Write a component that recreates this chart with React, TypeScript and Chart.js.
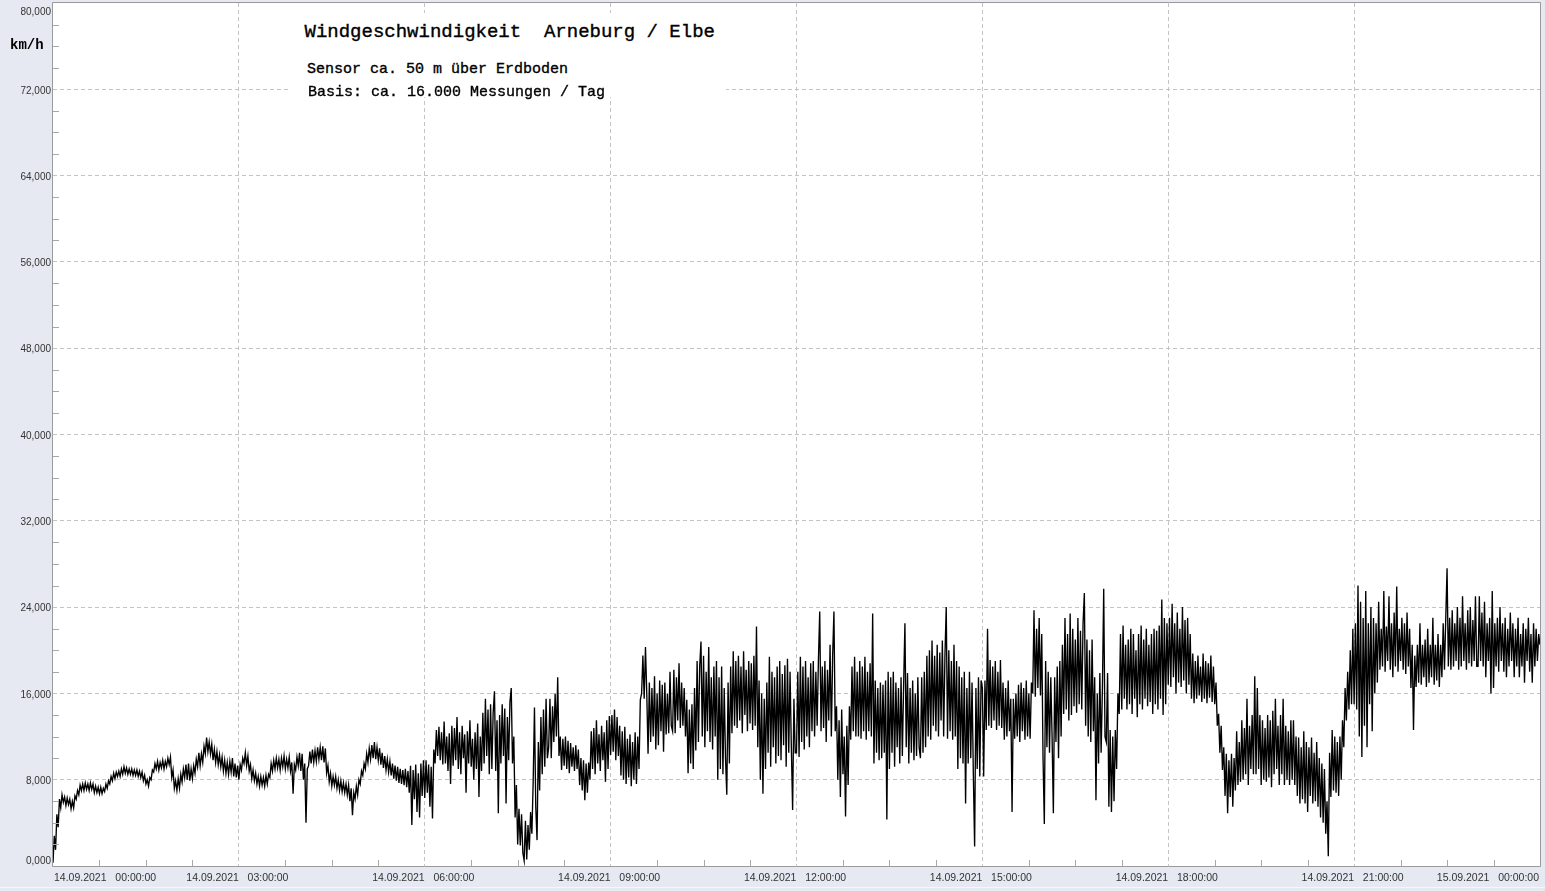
import React, { useEffect, useRef } from 'react';
import { Chart, registerables } from 'chart.js';

Chart.register(...registerables);

// ---------- axis data ----------
const xTickMinutes = [0, 180, 360, 540, 720, 900, 1080, 1260, 1440];
const xTickLabels = [
  '14.09.2021   00:00:00',
  '14.09.2021   03:00:00',
  '14.09.2021   06:00:00',
  '14.09.2021   09:00:00',
  '14.09.2021   12:00:00',
  '14.09.2021   15:00:00',
  '14.09.2021   18:00:00',
  '14.09.2021   21:00:00',
  '15.09.2021   00:00:00',
];
const yTickValues = [0, 8, 16, 24, 32, 40, 48, 56, 64, 72, 80];
const yTickLabels = ['0,000', '8,000', '16,000', '24,000', '32,000', '40,000', '48,000', '56,000', '64,000', '72,000', '80,000'];

// ---------- wind speed readings (km/h), each array spans one hour ----------
const speedH00 = [0.3, 2.8, 1.5, 4.8, 3.6, 6.2, 5.4, 6.6, 5.9, 6.4, 5.6, 6.3, 5.7, 6.2, 5.3, 6.0, 5.4, 6.5, 6.2, 7.0, 6.6, 7.5, 7.0, 7.6, 7.0, 7.7, 7.1, 7.6, 7.0, 7.7, 7.1, 7.6, 6.8, 7.4, 6.8, 7.3, 6.7, 7.3, 6.7, 7.2, 6.9, 7.6, 7.2, 7.9, 7.6, 8.3, 7.9, 8.6];
const speedH01 = [8.1, 8.7, 8.3, 8.8, 8.3, 9.0, 8.5, 9.2, 8.6, 9.1, 8.5, 9.0, 8.5, 9.0, 8.4, 8.9, 8.4, 8.9, 8.3, 8.8, 8.2, 8.7, 7.9, 8.4, 7.6, 8.0, 7.4, 8.2, 8.0, 8.9, 8.7, 9.5, 9.0, 9.7, 8.9, 9.6, 9.1, 9.8, 9.0, 9.7, 9.2, 10.0, 9.4, 10.1, 8.2, 8.9, 7.2, 7.9];
const speedH02 = [7.0, 8.1, 7.2, 8.5, 7.8, 9.0, 8.2, 9.4, 8.0, 9.5, 7.9, 9.0, 8.1, 9.3, 8.6, 9.9, 9.2, 10.5, 9.3, 10.4, 9.6, 11.1, 10.4, 11.9, 10.6, 11.5, 10.4, 11.3, 9.8, 10.8, 9.6, 10.6, 9.4, 10.3, 9.2, 10.1, 8.8, 9.8, 8.6, 9.6, 8.5, 9.7, 8.7, 10.0, 8.3, 9.5, 8.2, 9.3];
const speedH03 = [8.0, 9.4, 8.9, 10.0, 9.5, 10.5, 9.3, 10.2, 8.8, 9.4, 8.1, 8.9, 7.9, 8.6, 7.6, 8.3, 7.4, 8.3, 7.5, 8.2, 7.4, 8.4, 7.6, 8.5, 8.2, 9.5, 8.8, 9.8, 9.0, 10.0, 9.1, 9.9, 8.9, 10.0, 9.2, 10.2, 9.0, 9.9, 9.1, 10.1, 8.8, 9.6, 6.7, 9.4, 8.9, 10.1, 9.3, 10.5];
const speedH04 = [8.8, 10.4, 8.0, 9.5, 4.0, 9.0, 9.3, 10.6, 9.5, 10.8, 9.6, 10.7, 9.7, 11.0, 9.9, 11.0, 9.8, 11.1, 9.6, 10.9, 8.6, 9.3, 7.8, 8.6, 7.4, 8.3, 7.5, 8.3, 7.2, 8.0, 7.0, 7.9, 6.9, 7.7, 6.8, 7.6, 6.6, 7.5, 6.0, 7.2, 4.7, 6.8, 6.2, 7.4, 6.6, 8.0, 7.6, 8.8];
const speedH05 = [8.4, 9.5, 9.0, 10.4, 9.6, 10.9, 9.9, 11.2, 10.0, 11.5, 9.9, 11.0, 9.8, 10.9, 9.4, 10.5, 9.1, 10.2, 8.9, 9.9, 8.7, 9.7, 8.4, 9.5, 8.1, 9.3, 7.9, 9.2, 7.7, 9.0, 7.6, 8.9, 7.5, 9.0, 7.3, 8.8, 6.8, 9.3, 3.8, 8.9, 6.2, 9.4, 5.0, 8.6, 4.5, 9.5, 6.5, 9.8];
const speedH06 = [6.3, 9.8, 6.8, 9.4, 5.5, 9.2, 4.4, 10.8, 9.5, 12.6, 10.2, 12.9, 9.8, 12.4, 9.4, 13.4, 9.5, 12.0, 8.8, 12.3, 7.6, 13.0, 9.3, 12.8, 9.8, 13.8, 9.0, 12.4, 8.5, 13.0, 10.0, 12.2, 6.8, 12.5, 9.5, 13.5, 9.2, 11.8, 8.0, 12.4, 9.0, 13.2, 6.4, 12.0, 8.8, 14.2, 9.5, 15.5];
const speedH07 = [10.2, 14.5, 8.5, 15.0, 9.0, 14.2, 16.2, 8.8, 13.5, 4.9, 14.0, 9.5, 15.0, 10.2, 14.6, 5.8, 13.8, 9.8, 15.2, 16.5, 9.5, 12.0, 4.5, 7.5, 2.0, 5.3, 1.9, 4.8, 1.2, 0.5, 4.2, 0.6, 3.8, 1.5, 5.0, 3.0, 7.8, 14.7, 5.5, 2.4, 11.5, 7.0, 13.8, 8.5, 14.5, 9.2, 15.5, 10.0];
const speedH08 = [11.0, 15.5, 10.0, 14.8, 11.5, 16.0, 12.0, 17.5, 10.2, 12.0, 8.9, 11.8, 9.3, 12.0, 9.0, 11.6, 8.6, 11.4, 9.2, 11.0, 8.8, 11.2, 9.0, 10.8, 7.5, 10.0, 7.0, 9.8, 6.1, 9.5, 6.8, 9.6, 8.0, 12.5, 9.0, 12.8, 8.5, 13.5, 9.5, 12.2, 8.8, 13.0, 9.8, 12.4, 7.8, 13.5, 9.0, 13.9];
const speedH09 = [10.3, 14.0, 10.6, 14.5, 9.8, 13.8, 10.2, 13.0, 8.4, 12.5, 8.0, 12.9, 7.6, 11.8, 8.2, 12.2, 7.4, 11.5, 8.0, 12.4, 7.6, 12.0, 9.0, 15.4, 16.0, 19.5, 15.5, 20.3, 16.0, 10.4, 17.0, 11.5, 16.5, 12.0, 17.6, 10.8, 16.0, 11.2, 17.2, 12.5, 16.8, 10.6, 17.0, 12.2, 16.0, 12.3, 18.0, 13.0];
const speedH10 = [12.5, 18.2, 12.3, 17.5, 13.5, 18.8, 12.8, 17.0, 13.0, 16.5, 12.0, 15.4, 8.6, 14.5, 9.5, 15.0, 9.0, 16.5, 10.7, 19.0, 11.5, 18.5, 20.8, 12.0, 19.5, 11.0, 18.0, 12.5, 20.3, 11.5, 17.5, 10.8, 18.5, 12.0, 19.0, 8.0, 17.5, 9.0, 18.5, 8.5, 16.5, 10.0, 6.6, 17.0, 9.5, 18.5, 12.3, 19.9];
const speedH11 = [13.0, 19.0, 12.8, 19.5, 13.5, 18.5, 12.3, 19.9, 14.0, 18.2, 12.5, 19.0, 13.2, 18.8, 12.6, 19.5, 13.0, 22.2, 11.0, 17.2, 8.0, 16.0, 6.7, 15.5, 9.0, 17.0, 10.5, 19.4, 9.2, 18.0, 11.0, 17.5, 9.5, 18.5, 10.2, 19.0, 9.8, 17.8, 11.2, 18.6, 9.2, 19.2, 10.5, 18.0, 11.0, 5.2, 15.5, 10.5];
const speedH12 = [10.5, 18.0, 10.1, 19.4, 11.5, 18.5, 10.8, 19.0, 12.0, 17.5, 11.0, 18.8, 12.5, 19.0, 12.0, 18.0, 13.0, 19.2, 23.6, 12.5, 18.5, 12.8, 19.0, 11.5, 18.2, 13.5, 20.5, 12.0, 19.5, 23.6, 12.5, 14.8, 8.0, 13.5, 6.4, 14.5, 8.5, 12.0, 4.6, 13.0, 7.5, 14.8, 11.7, 18.5, 12.5, 19.4, 12.0, 18.0];
const speedH13 = [12.0, 19.0, 11.8, 18.5, 12.5, 19.4, 11.7, 18.0, 12.5, 18.8, 12.0, 23.4, 9.5, 17.2, 10.5, 16.5, 9.8, 17.0, 10.0, 16.8, 10.5, 17.2, 4.3, 18.0, 9.0, 17.5, 10.5, 18.0, 9.2, 17.0, 11.0, 16.5, 9.5, 17.5, 10.2, 16.8, 22.5, 11.0, 17.9, 9.5, 16.5, 10.5, 17.2, 9.8, 16.0, 10.2, 17.5, 11.0];
const speedH14 = [10.0, 17.5, 10.5, 18.0, 11.0, 19.5, 12.0, 20.0, 11.7, 20.9, 13.0, 19.5, 12.5, 20.5, 12.0, 19.8, 13.5, 20.9, 12.0, 19.5, 24.0, 11.8, 20.0, 12.5, 19.0, 11.7, 20.5, 12.0, 19.0, 9.0, 18.5, 10.0, 17.5, 9.5, 18.0, 5.8, 16.5, 9.5, 18.0, 10.0, 17.0, 8.5, 1.8, 16.5, 9.0, 17.5, 8.3, 17.2];
const speedH15 = [16.5, 8.3, 17.2, 12.6, 22.0, 13.0, 19.1, 12.8, 18.5, 13.5, 19.0, 12.6, 18.0, 13.0, 19.1, 12.8, 17.0, 11.7, 16.5, 12.0, 17.2, 12.5, 15.5, 5.0, 15.5, 11.8, 16.0, 12.0, 16.8, 11.5, 17.0, 12.5, 16.5, 11.7, 17.2, 12.0, 16.0, 11.8, 17.0, 16.0, 23.7, 15.7, 22.0, 16.5, 23.0, 15.8, 21.5, 10.0];
const speedH16 = [3.9, 19.0, 11.0, 18.0, 10.5, 17.5, 12.0, 4.9, 17.5, 11.5, 18.5, 10.0, 19.0, 12.0, 20.5, 14.1, 23.0, 14.5, 21.5, 13.5, 23.4, 14.0, 22.0, 14.8, 21.0, 14.2, 23.0, 15.0, 21.8, 14.5, 22.5, 25.3, 13.0, 21.0, 12.0, 20.0, 11.5, 21.0, 12.5, 17.5, 6.1, 16.0, 9.5, 17.9, 10.5, 16.5, 25.7, 12.0];
const speedH17 = [11.5, 17.9, 5.5, 12.6, 5.0, 12.0, 6.0, 12.6, 9.0, 16.0, 14.1, 21.5, 14.5, 22.3, 15.5, 20.5, 14.5, 21.0, 15.0, 22.0, 14.1, 21.5, 15.5, 20.0, 13.8, 21.5, 15.0, 22.3, 14.5, 21.0, 15.5, 22.0, 14.8, 20.5, 15.2, 21.5, 14.1, 22.0, 15.0, 21.8, 14.5, 22.3, 15.5, 24.7, 14.0, 23.0, 15.0, 22.5];
const speedH18 = [16.8, 23.0, 16.6, 24.3, 17.5, 22.5, 16.0, 23.5, 17.0, 22.0, 16.6, 24.0, 17.2, 22.8, 16.0, 23.0, 16.8, 21.5, 15.5, 19.7, 15.1, 19.0, 15.5, 19.5, 15.8, 18.5, 15.2, 19.7, 15.5, 19.0, 15.1, 18.8, 15.6, 19.5, 15.2, 18.5, 15.0, 17.0, 13.0, 14.1, 10.5, 13.0, 8.9, 11.0, 6.5, 10.4, 4.9, 9.8];
const speedH19 = [6.4, 10.4, 5.5, 10.0, 7.0, 12.5, 7.5, 11.5, 7.8, 13.5, 8.0, 12.8, 8.5, 15.5, 7.5, 13.0, 9.0, 14.0, 8.5, 17.6, 8.5, 16.5, 9.0, 14.0, 7.5, 13.5, 8.0, 12.8, 7.8, 14.0, 8.2, 13.5, 7.3, 14.4, 8.5, 15.5, 9.0, 13.0, 7.5, 14.0, 8.5, 15.5, 7.5, 13.0, 8.0, 12.5, 7.5, 13.5];
const speedH20 = [8.0, 13.5, 7.5, 12.0, 6.5, 11.9, 5.8, 11.0, 6.2, 12.5, 5.8, 11.5, 5.0, 11.0, 6.5, 11.9, 5.8, 10.5, 6.0, 11.5, 5.5, 10.0, 4.5, 9.5, 4.0, 9.0, 3.0, 6.0, 0.9, 10.5, 6.4, 12.6, 7.0, 12.0, 6.8, 11.5, 6.5, 12.0, 8.0, 13.5, 11.0, 16.5, 13.5, 18.0, 14.5, 20.0, 15.0, 22.0];
const speedH21 = [15.0, 22.5, 14.5, 26.0, 12.0, 24.5, 10.1, 23.0, 13.0, 25.5, 11.0, 22.5, 15.0, 24.0, 12.5, 23.0, 16.0, 22.5, 17.0, 24.5, 18.2, 22.0, 18.5, 25.5, 18.0, 22.2, 19.0, 25.0, 18.2, 22.5, 17.5, 23.5, 18.5, 25.9, 18.0, 22.0, 19.0, 23.0, 18.2, 22.5, 17.8, 23.5, 18.5, 22.0, 16.5, 20.5, 12.6, 19.5];
const speedH22 = [16.6, 20.5, 17.0, 22.5, 16.8, 20.5, 17.5, 21.0, 16.6, 22.0, 17.0, 20.5, 17.5, 23.0, 16.8, 20.5, 17.2, 21.5, 16.6, 20.5, 17.5, 22.5, 18.2, 23.0, 27.6, 18.5, 23.0, 18.2, 23.7, 18.5, 22.5, 19.0, 24.0, 18.2, 23.0, 18.5, 25.0, 19.0, 22.5, 18.2, 23.7, 18.8, 24.0, 18.5, 22.8, 19.0, 25.0, 18.5];
const speedH23 = [18.5, 25.0, 19.0, 23.5, 18.5, 24.5, 17.5, 22.5, 19.0, 23.0, 16.0, 25.5, 16.5, 22.5, 18.5, 23.0, 18.0, 24.0, 19.0, 22.5, 18.0, 23.0, 17.5, 22.0, 18.5, 23.5, 19.0, 22.5, 17.5, 22.0, 18.5, 23.0, 17.5, 21.5, 18.5, 22.5, 17.0, 22.0, 19.0, 23.0, 18.0, 21.5, 17.0, 22.5, 18.5, 22.0, 19.0, 21.5];
const speedAtMidnight = 20.5;

const hourlySpeeds = [
  speedH00, speedH01, speedH02, speedH03, speedH04, speedH05, speedH06, speedH07,
  speedH08, speedH09, speedH10, speedH11, speedH12, speedH13, speedH14, speedH15,
  speedH16, speedH17, speedH18, speedH19, speedH20, speedH21, speedH22, speedH23,
];

const OUTER_BG = '#E6E9F1';
const FRAME = '#9a9a9a';
const GRID = '#c4c4c4';
const LABEL = '#333333';

const decorPlugin = {
  id: 'decor',
  beforeDraw(chart: any) {
    const { ctx, chartArea: a, width, height } = chart;
    ctx.save();
    ctx.fillStyle = OUTER_BG;
    ctx.fillRect(0, 0, width, height);
    ctx.fillStyle = '#F6F7FA';
    ctx.fillRect(0, height - 4, width, 1);
    ctx.fillStyle = '#ffffff';
    ctx.fillRect(a.left, a.top, a.right - a.left, a.bottom - a.top);
    ctx.restore();
  },
  afterDraw(chart: any) {
    const { ctx, chartArea: a } = chart;
    const xs = chart.scales.x;
    const ys = chart.scales.y;
    ctx.save();
    ctx.strokeStyle = '#a8a8a8';
    ctx.lineWidth = 1;
    ctx.beginPath();
    for (let m = 45; m < 1440; m += 45) {
      if (m % 180 === 0) continue;
      const px = Math.round(xs.getPixelForValue(m)) + 0.5;
      ctx.moveTo(px, a.bottom);
      ctx.lineTo(px, a.bottom - 6);
    }
    for (let v = 2; v < 80; v += 2) {
      if (v % 8 === 0) continue;
      const py = Math.round(ys.getPixelForValue(v)) + 0.5;
      ctx.moveTo(a.left, py);
      ctx.lineTo(a.left + 6, py);
    }
    ctx.stroke();
    ctx.strokeStyle = FRAME;
    ctx.beginPath();
    const l = Math.round(a.left) - 0.5;
    const r = Math.round(a.right) + 0.5;
    const t = Math.round(a.top) - 0.5;
    const b = Math.round(a.bottom) + 0.5;
    ctx.rect(l, t, r - l, b - t);
    ctx.stroke();
    ctx.fillStyle = LABEL;
    ctx.font = '10px "Liberation Sans", Arial, sans-serif';
    ctx.textAlign = 'right';
    ctx.textBaseline = 'alphabetic';
    yTickValues.forEach((v, i) => {
      const py = ys.getPixelForValue(v);
      let by = py + 4.2;
      if (i === yTickValues.length - 1) by = py + 12;
      if (i === 0) by = py - 2.5;
      ctx.fillText(yTickLabels[i], a.left - 2, by);
    });
    ctx.font = '10.5px "Liberation Sans", Arial, sans-serif';
    xTickMinutes.forEach((m, i) => {
      const px = xs.getPixelForValue(m);
      if (i === 0) {
        ctx.textAlign = 'left';
        ctx.fillText(xTickLabels[i], px + 1, a.bottom + 15);
      } else if (i === xTickMinutes.length - 1) {
        ctx.textAlign = 'right';
        ctx.fillText(xTickLabels[i], px - 1, a.bottom + 15);
      } else {
        ctx.textAlign = 'center';
        ctx.fillText(xTickLabels[i], px - 1.5, a.bottom + 15);
      }
    });
    ctx.restore();
  },
};

export default function App() {
  const canvasRef = useRef<HTMLCanvasElement | null>(null);

  useEffect(() => {
    const canvas = canvasRef.current;
    if (!canvas) return;
    const points: { x: number; y: number }[] = [];
    hourlySpeeds.forEach((arr, h) => {
      arr.forEach((v, j) => points.push({ x: h * 60 + (j * 60) / arr.length, y: v }));
    });
    points.push({ x: 1440, y: speedAtMidnight });
    const chart = new Chart(canvas, {
      type: 'line',
      data: {
        datasets: [
          {
            data: points,
            borderColor: '#000000',
            borderWidth: 1.35,
            pointRadius: 0,
            tension: 0,
            fill: false,
          },
        ],
      },
      options: {
        animation: false,
        responsive: false,
        events: [],
        layout: { padding: { left: 53, top: 3, right: 5, bottom: 25 } },
        plugins: { legend: { display: false }, tooltip: { enabled: false }, title: { display: false } },
        scales: {
          x: {
            type: 'linear',
            min: 0,
            max: 1440,
            ticks: { display: false, stepSize: 180 },
            grid: {
              drawTicks: false,
              lineWidth: 1,
              color: (c: any) => (c.tick && c.tick.value > 0 && c.tick.value < 1440 ? GRID : 'rgba(0,0,0,0)'),
            },
            border: { display: false, dash: [4, 3] },
          },
          y: {
            type: 'linear',
            min: 0,
            max: 80,
            ticks: { display: false, stepSize: 8 },
            grid: {
              drawTicks: false,
              lineWidth: 1,
              color: (c: any) => (c.tick && c.tick.value > 0 && c.tick.value < 80 ? GRID : 'rgba(0,0,0,0)'),
            },
            border: { display: false, dash: [4, 3] },
          },
        },
      },
      plugins: [decorPlugin],
    });
    return () => chart.destroy();
  }, []);

  const mono = '"Liberation Mono", "Courier New", monospace';
  const heavy = { WebkitTextStroke: '0.35px #000' } as React.CSSProperties;
  return (
    <div style={{ position: 'fixed', left: 0, top: 0, width: 1545, height: 891, overflow: 'hidden', background: OUTER_BG }}>
      <canvas ref={canvasRef} width={1545} height={891} style={{ position: 'absolute', left: 0, top: 0, width: 1545, height: 891 }} />
      <div style={{ position: 'absolute', left: 290, top: 13, width: 436, height: 84, background: '#ffffff' }} />
      <div style={{ position: 'absolute', left: 304.5, top: 23, fontFamily: mono, fontSize: 19, lineHeight: '19px', whiteSpace: 'pre', color: '#000', ...heavy }}>
        {'Windgeschwindigkeit  Arneburg / Elbe'}
      </div>
      <div style={{ position: 'absolute', left: 307, top: 62, fontFamily: mono, fontSize: 15, lineHeight: '15px', whiteSpace: 'pre', color: '#000', ...heavy }}>
        {'Sensor ca. 50 m über Erdboden'}
      </div>
      <div style={{ position: 'absolute', left: 308, top: 84.5, fontFamily: mono, fontSize: 15, lineHeight: '15px', whiteSpace: 'pre', color: '#000', ...heavy }}>
        {'Basis: ca. 16.000 Messungen / Tag'}
      </div>
      <div style={{ position: 'absolute', left: 10, top: 37.6, fontFamily: mono, fontSize: 14, fontWeight: 'bold', lineHeight: '14px', whiteSpace: 'pre', color: '#000' }}>
        {'km/h'}
      </div>
    </div>
  );
}
